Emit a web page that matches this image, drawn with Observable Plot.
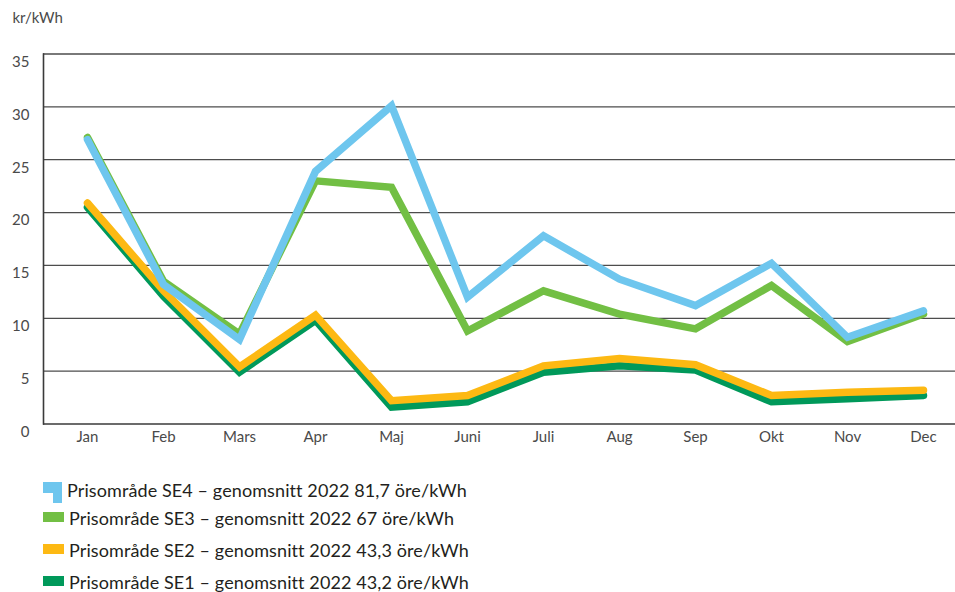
<!DOCTYPE html>
<html><head><meta charset="utf-8">
<script src="https://cdn.jsdelivr.net/npm/d3@7"></script>
<script src="https://cdn.jsdelivr.net/npm/@observablehq/plot@0.6"></script>
<style>
body{margin:0;background:#fff;font-family:Lato,"Open Sans",sans-serif;}
#chart{position:absolute;left:0;top:0;}
.leg{position:absolute;font-size:18px;letter-spacing:0.1px;color:#231f20;white-space:nowrap;line-height:20px;}
.sw{position:absolute;}
</style></head><body>
<div id="chart"></div>
<div id="legend"></div>
<script>
const months = ["Jan","Feb","Mars","Apr","Maj","Juni","Juli","Aug","Sep","Okt","Nov","Dec"];
const se4 = [26.9, 13.2, 8.0, 23.9, 30.1, 12.0, 17.8, 13.7, 11.2, 15.2, 8.2, 10.7];
const se3 = [27.1, 13.5, 8.5, 23.0, 22.4, 8.8, 12.6, 10.4, 9.0, 13.1, 7.8, 10.4];
const se2 = [20.9, 12.6, 5.4, 10.3, 2.2, 2.7, 5.5, 6.2, 5.6, 2.7, 3.0, 3.2];
const se1 = [20.5, 12.1, 4.9, 9.8, 1.6, 2.1, 4.9, 5.5, 5.1, 2.1, 2.4, 2.7];
const seriesNames = ["SE1","SE2","SE3","SE4"];
const seriesColors = ["#00995a","#fdb913","#72bf44","#6ec6ee"];
const legendLabels = [
  "Prisområde SE4 – genomsnitt 2022 81,7 öre/kWh",
  "Prisområde SE3 – genomsnitt 2022 67 öre/kWh",
  "Prisområde SE2 – genomsnitt 2022 43,3 öre/kWh",
  "Prisområde SE1 – genomsnitt 2022 43,2 öre/kWh"
];
const yTicks = [0,5,10,15,20,25,30,35];
const unitLabel = "kr/kWh";

const seriesValues = {SE1: se1, SE2: se2, SE3: se3, SE4: se4};
const data = seriesNames.flatMap(s => months.map((m, i) => ({series: s, month: m, value: seriesValues[s][i]})));

const chart = Plot.plot({
  width: 955, height: 450,
  marginLeft: 43, marginRight: 0, marginTop: 53.5, marginBottom: 26.5,
  style: {fontFamily: 'Lato,"Open Sans",sans-serif', fontSize: "15px", color: "#4a4a4a", background: "#fff"},
  x: {type: "point", domain: months, range: [82, 928], padding: 0},
  y: {domain: [0, 35]},
  color: {domain: seriesNames, range: seriesColors},
  marks: [
    Plot.ruleY(yTicks.filter(d => d > 0), {stroke: "#4d4d4d", strokeWidth: 1.3}),
    Plot.ruleY([0], {stroke: "#3a3a3a", strokeWidth: 1.6}),
    Plot.frame({anchor: "left", stroke: "#3a3a3a", strokeWidth: 1.6}),
    Plot.axisY({ticks: yTicks, tickSize: 0, tickPadding: 14, dy: 8, label: null, fill: "#4a4a4a", fontSize: 15}),
    Plot.axisX({tickSize: 0, tickPadding: 7, label: null, fill: "#4a4a4a", fontSize: 15}),
    Plot.line(data, {x: "month", y: "value", z: "series", stroke: "series",
      strokeWidth: 7.5, strokeLinejoin: "miter", strokeLinecap: "round", strokeMiterlimit: 10}),
    Plot.text([unitLabel], {frameAnchor: "top-left", dx: -31, dy: -35.5, textAnchor: "start", lineAnchor: "middle", fill: "#4a4a4a", fontSize: 15})
  ]
});
document.getElementById("chart").append(chart);

// legend (HTML)
const legend = document.getElementById("legend");
const rows = [
  {label: legendLabels[0], color: seriesColors[3], textX: 67, cy: 490},
  {label: legendLabels[1], color: seriesColors[2], textX: 69, cy: 518},
  {label: legendLabels[2], color: seriesColors[1], textX: 69, cy: 550},
  {label: legendLabels[3], color: seriesColors[0], textX: 69, cy: 582}
];
rows.forEach((r, i) => {
  if (i === 0) {
    const a = document.createElement("div");
    a.className = "sw";
    Object.assign(a.style, {left: "43px", top: "482px", width: "19px", height: "11px", background: r.color});
    const b = document.createElement("div");
    b.className = "sw";
    Object.assign(b.style, {left: "53px", top: "482px", width: "9px", height: "21px", background: r.color});
    legend.append(a, b);
  } else {
    const s = document.createElement("div");
    s.className = "sw";
    Object.assign(s.style, {left: "43px", top: (r.cy - 6) + "px", width: "21px", height: "10px", background: r.color});
    legend.append(s);
  }
  const t = document.createElement("div");
  t.className = "leg";
  t.textContent = r.label;
  Object.assign(t.style, {left: r.textX + "px", top: (r.cy - 10) + "px"});
  legend.append(t);
});
</script>
</body></html>
